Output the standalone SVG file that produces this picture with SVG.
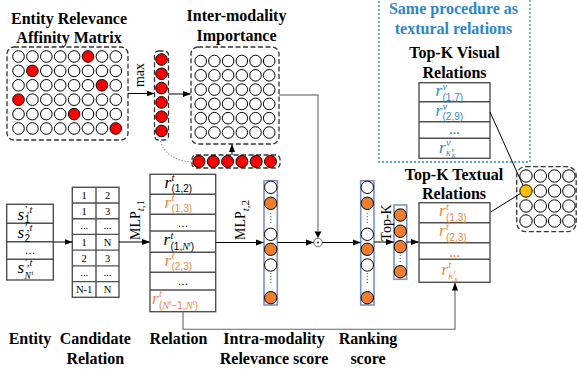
<svg xmlns="http://www.w3.org/2000/svg" width="577" height="376" viewBox="0 0 577 376">
<defs>
<style>
.t{font-family:"Liberation Serif","Times New Roman",serif;font-weight:bold;font-size:16px;fill:#000;text-anchor:middle}
.tb{font-family:"Liberation Serif","Times New Roman",serif;font-weight:bold;font-size:16px;fill:#2E86C8;text-anchor:middle}
.rot{font-family:"Liberation Serif","Times New Roman",serif;font-size:14px;fill:#000}
.mi{font-family:"Liberation Serif","Times New Roman",serif;font-style:italic;font-size:17px}
.sp{font-family:"Liberation Serif","Times New Roman",serif;font-style:italic;font-size:10.5px}
.sb{font-family:"Liberation Sans",Arial,sans-serif;font-size:10px;font-style:normal}
.it{font-family:"Liberation Serif","Times New Roman",serif;font-style:italic}
.dots{font-family:"Liberation Sans",Arial,sans-serif;font-size:11px;text-anchor:middle}
.cell{font-family:"Liberation Serif","Times New Roman",serif;font-size:10.5px;fill:#000;text-anchor:middle}
.blk{fill:#000}
.org{fill:#EE8540}
.blu{fill:#2E86C8}
.dash{fill:none;stroke:#333;stroke-width:1.3;stroke-dasharray:5,2.5}
.tbl{fill:#fff;stroke:#505050;stroke-width:1.4}
.ln{stroke:#505050;stroke-width:1.4;fill:none}
.col{fill:none;stroke:#7B93C6;stroke-width:1.6}
.c{fill:#fff;stroke:#000;stroke-width:1}
.red{fill:#FF0000;stroke:#000;stroke-width:1}
.or{fill:#ED7D31;stroke:#000;stroke-width:1}
.yl{fill:#FFC000;stroke:#000;stroke-width:1}
.ar{stroke:#000;stroke-width:1;fill:none}
.gar{stroke:#8a8a8a;stroke-width:1.4;fill:none}
.vd{stroke:#666;stroke-width:1.2;stroke-dasharray:1,2;fill:none}
</style>
<marker id="ah" markerWidth="8" markerHeight="7" refX="7.5" refY="3.5" orient="auto" markerUnits="userSpaceOnUse">
<path d="M0,0.5 L8,3.5 L0,6.5 z" fill="#000"/>
</marker>
</defs>
<rect width="577" height="376" fill="#fff"/>

<!-- titles -->
<g id="titles">
<text class="t" x="69" y="23.5">Entity Relevance</text>
<text class="t" x="69" y="42.5">Affinity Matrix</text>
<text class="t" x="236.5" y="21">Inter-modality</text>
<text class="t" x="236.5" y="40.5">Importance</text>
<text class="t" x="30" y="344">Entity</text>
<text class="t" x="95.3" y="344">Candidate</text>
<text class="t" x="95.3" y="364">Relation</text>
<text class="t" x="178.5" y="344">Relation</text>
<text class="t" x="274" y="344">Intra-modality</text>
<text class="t" x="274" y="364">Relevance score</text>
<text class="t" x="368" y="344">Ranking</text>
<text class="t" x="368" y="364">score</text>
<text class="t" x="454" y="179.5">Top-K Textual</text>
<text class="t" x="454" y="198.5">Relations</text>
</g>

<!-- affinity matrix -->
<g id="affinity">
<rect class="dash" x="7" y="47" width="121" height="93" rx="7"/>
<circle class="c" cx="18.5" cy="56.5" r="5.8"/><circle class="c" cx="32.4" cy="56.5" r="5.8"/><circle class="c" cx="46.3" cy="56.5" r="5.8"/><circle class="c" cx="60.2" cy="56.5" r="5.8"/><circle class="c" cx="74.1" cy="56.5" r="5.8"/><circle class="red" cx="88" cy="56.5" r="5.8"/><circle class="c" cx="101.9" cy="56.5" r="5.8"/><circle class="c" cx="115.8" cy="56.5" r="5.8"/>
<circle class="c" cx="18.5" cy="70.9" r="5.8"/><circle class="red" cx="32.4" cy="70.9" r="5.8"/><circle class="c" cx="46.3" cy="70.9" r="5.8"/><circle class="c" cx="60.2" cy="70.9" r="5.8"/><circle class="c" cx="74.1" cy="70.9" r="5.8"/><circle class="c" cx="88" cy="70.9" r="5.8"/><circle class="c" cx="101.9" cy="70.9" r="5.8"/><circle class="c" cx="115.8" cy="70.9" r="5.8"/>
<circle class="c" cx="18.5" cy="85.3" r="5.8"/><circle class="c" cx="32.4" cy="85.3" r="5.8"/><circle class="c" cx="46.3" cy="85.3" r="5.8"/><circle class="c" cx="60.2" cy="85.3" r="5.8"/><circle class="c" cx="74.1" cy="85.3" r="5.8"/><circle class="c" cx="88" cy="85.3" r="5.8"/><circle class="red" cx="101.9" cy="85.3" r="5.8"/><circle class="c" cx="115.8" cy="85.3" r="5.8"/>
<circle class="red" cx="18.5" cy="99.7" r="5.8"/><circle class="c" cx="32.4" cy="99.7" r="5.8"/><circle class="c" cx="46.3" cy="99.7" r="5.8"/><circle class="c" cx="60.2" cy="99.7" r="5.8"/><circle class="c" cx="74.1" cy="99.7" r="5.8"/><circle class="c" cx="88" cy="99.7" r="5.8"/><circle class="c" cx="101.9" cy="99.7" r="5.8"/><circle class="c" cx="115.8" cy="99.7" r="5.8"/>
<circle class="c" cx="18.5" cy="114.1" r="5.8"/><circle class="c" cx="32.4" cy="114.1" r="5.8"/><circle class="c" cx="46.3" cy="114.1" r="5.8"/><circle class="c" cx="60.2" cy="114.1" r="5.8"/><circle class="red" cx="74.1" cy="114.1" r="5.8"/><circle class="c" cx="88" cy="114.1" r="5.8"/><circle class="c" cx="101.9" cy="114.1" r="5.8"/><circle class="c" cx="115.8" cy="114.1" r="5.8"/>
<circle class="c" cx="18.5" cy="128.5" r="5.8"/><circle class="c" cx="32.4" cy="128.5" r="5.8"/><circle class="c" cx="46.3" cy="128.5" r="5.8"/><circle class="c" cx="60.2" cy="128.5" r="5.8"/><circle class="c" cx="74.1" cy="128.5" r="5.8"/><circle class="c" cx="88" cy="128.5" r="5.8"/><circle class="c" cx="101.9" cy="128.5" r="5.8"/><circle class="red" cx="115.8" cy="128.5" r="5.8"/>
</g>

<!-- max column -->
<g id="max-column">
<rect class="dash" x="154.5" y="51" width="14" height="89" rx="4"/>
<circle class="red" cx="161.5" cy="59.5" r="5.8"/><circle class="red" cx="161.5" cy="73.8" r="5.8"/><circle class="red" cx="161.5" cy="88.1" r="5.8"/><circle class="red" cx="161.5" cy="102.4" r="5.8"/><circle class="red" cx="161.5" cy="116.7" r="5.8"/><circle class="red" cx="161.5" cy="131" r="5.8"/>
</g>

<!-- inter-modality matrix -->
<g id="inter-modality">
<rect class="dash" x="191" y="47" width="88" height="97" rx="7"/>
<circle class="c" cx="200.7" cy="61" r="5.8"/><circle class="c" cx="214.4" cy="61" r="5.8"/><circle class="c" cx="228.1" cy="61" r="5.8"/><circle class="c" cx="241.8" cy="61" r="5.8"/><circle class="c" cx="255.5" cy="61" r="5.8"/><circle class="c" cx="269.2" cy="61" r="5.8"/>
<circle class="c" cx="200.7" cy="75.3" r="5.8"/><circle class="c" cx="214.4" cy="75.3" r="5.8"/><circle class="c" cx="228.1" cy="75.3" r="5.8"/><circle class="c" cx="241.8" cy="75.3" r="5.8"/><circle class="c" cx="255.5" cy="75.3" r="5.8"/><circle class="c" cx="269.2" cy="75.3" r="5.8"/>
<circle class="c" cx="200.7" cy="89.6" r="5.8"/><circle class="c" cx="214.4" cy="89.6" r="5.8"/><circle class="c" cx="228.1" cy="89.6" r="5.8"/><circle class="c" cx="241.8" cy="89.6" r="5.8"/><circle class="c" cx="255.5" cy="89.6" r="5.8"/><circle class="c" cx="269.2" cy="89.6" r="5.8"/>
<circle class="c" cx="200.7" cy="103.9" r="5.8"/><circle class="c" cx="214.4" cy="103.9" r="5.8"/><circle class="c" cx="228.1" cy="103.9" r="5.8"/><circle class="c" cx="241.8" cy="103.9" r="5.8"/><circle class="c" cx="255.5" cy="103.9" r="5.8"/><circle class="c" cx="269.2" cy="103.9" r="5.8"/>
<circle class="c" cx="200.7" cy="118.2" r="5.8"/><circle class="c" cx="214.4" cy="118.2" r="5.8"/><circle class="c" cx="228.1" cy="118.2" r="5.8"/><circle class="c" cx="241.8" cy="118.2" r="5.8"/><circle class="c" cx="255.5" cy="118.2" r="5.8"/><circle class="c" cx="269.2" cy="118.2" r="5.8"/>
<circle class="c" cx="200.7" cy="132.5" r="5.8"/><circle class="c" cx="214.4" cy="132.5" r="5.8"/><circle class="c" cx="228.1" cy="132.5" r="5.8"/><circle class="c" cx="241.8" cy="132.5" r="5.8"/><circle class="c" cx="255.5" cy="132.5" r="5.8"/><circle class="c" cx="269.2" cy="132.5" r="5.8"/>
</g>

<!-- red row -->
<g id="max-row">
<rect class="dash" x="192" y="155" width="88" height="13" rx="4"/>
<circle class="red" cx="199" cy="161.5" r="6"/><circle class="red" cx="213.3" cy="161.5" r="6"/><circle class="red" cx="227.6" cy="161.5" r="6"/><circle class="red" cx="241.9" cy="161.5" r="6"/><circle class="red" cx="256.2" cy="161.5" r="6"/><circle class="red" cx="270.5" cy="161.5" r="6"/>
</g>

<!-- visual box -->
<g id="visual-box">
<rect x="379" y="-5" width="151" height="167" fill="none" stroke="#2E86C8" stroke-width="1.3" stroke-dasharray="2,2"/>
<text class="tb" x="453.5" y="14">Same procedure as</text>
<text class="tb" x="453.5" y="34">textural relations</text>
<text class="t" x="454.5" y="58">Top-K Visual</text>
<text class="t" x="454.5" y="77.5">Relations</text>
</g>

<!-- visual relations table -->
<g id="visual-table">
<rect class="tbl" x="419" y="82.7" width="71" height="75.6"/>
<path class="ln" d="M419,101.7H490M419,121.7H490M419,138.3H490"/>
<text class="blu"><tspan class="mi" x="435.5" y="96.2">r</tspan><tspan class="sp" x="442.5" y="89.7">v</tspan><tspan class="sb" x="442.5" y="100.5">(1,7)</tspan></text>
<text class="blu"><tspan class="mi" x="435.5" y="115.7">r</tspan><tspan class="sp" x="442.5" y="109.5">v</tspan><tspan class="sb" x="442.5" y="119.8">(2,9)</tspan></text>
<text class="dots blu" x="454.5" y="134" font-weight="bold">…</text>
<text class="blu"><tspan class="mi" x="439" y="152.5">r</tspan><tspan class="sp" x="446" y="145.5">v</tspan><tspan class="it" x="446" y="156" font-size="9.5">κ</tspan><tspan class="it" x="451.5" y="151.5" font-size="6.5">v</tspan><tspan class="it" x="451.5" y="158" font-size="6.5">K</tspan></text>
</g>

<!-- textual relations table -->
<g id="textual-table">
<rect class="tbl" x="419" y="202.7" width="71" height="79.6"/>
<path class="ln" d="M419,222.7H490M419,242.7H490M419,259.3H490"/>
<text class="org"><tspan class="mi" x="439" y="216.2">r</tspan><tspan class="sp" x="446" y="209.7">t</tspan><tspan class="sb" x="446" y="220.5">(1,3)</tspan></text>
<text class="org"><tspan class="mi" x="439" y="236.2">r</tspan><tspan class="sp" x="446" y="229.7">t</tspan><tspan class="sb" x="446" y="240.5">(2,3)</tspan></text>
<text class="dots org" x="454.5" y="257" font-weight="bold">…</text>
<text class="org"><tspan class="mi" x="441.5" y="275">r</tspan><tspan class="sp" x="448.5" y="268">t</tspan><tspan class="it" x="448.5" y="278.5" font-size="9.5">κ</tspan><tspan class="it" x="454" y="274" font-size="6.5">t</tspan><tspan class="it" x="454" y="281.5" font-size="6.5">K</tspan></text>
</g>

<!-- right circle grid -->
<g id="fusion-grid">
<rect class="dash" x="516.7" y="166.7" width="59.5" height="65" rx="9"/>
<circle class="c" cx="526" cy="176" r="6.2"/><circle class="c" cx="540.3" cy="176" r="6.2"/><circle class="c" cx="554.6" cy="176" r="6.2"/><circle class="c" cx="568.9" cy="176" r="6.2"/>
<circle class="yl" cx="526" cy="191" r="6.2"/><circle class="c" cx="540.3" cy="191" r="6.2"/><circle class="c" cx="554.6" cy="191" r="6.2"/><circle class="c" cx="568.9" cy="191" r="6.2"/>
<circle class="c" cx="526" cy="206" r="6.2"/><circle class="c" cx="540.3" cy="206" r="6.2"/><circle class="c" cx="554.6" cy="206" r="6.2"/><circle class="c" cx="568.9" cy="206" r="6.2"/>
<circle class="c" cx="526" cy="221" r="6.2"/><circle class="c" cx="540.3" cy="221" r="6.2"/><circle class="c" cx="554.6" cy="221" r="6.2"/><circle class="c" cx="568.9" cy="221" r="6.2"/>
</g>

<!-- entity table -->
<g id="entity-table">
<rect class="tbl" x="6.7" y="204.3" width="46.6" height="75.7"/>
<path class="ln" d="M6.7,223.3H53.3M6.7,241.7H53.3M6.7,259.3H53.3"/>
<text class="blk"><tspan class="mi" x="17.5" y="219.5">s</tspan><tspan class="sp" x="24.5" y="212.5">′,t</tspan><tspan class="sb" x="24.5" y="223" font-size="9">1</tspan></text>
<text class="blk"><tspan class="mi" x="17.5" y="238">s</tspan><tspan class="sp" x="24.5" y="231">′,t</tspan><tspan class="sb" x="24.5" y="241.5" font-size="9">2</tspan></text>
<text class="dots blk" x="30" y="254">…</text>
<text class="blk"><tspan class="mi" x="17.5" y="273">s</tspan><tspan class="sp" x="24.5" y="266">′,t</tspan><tspan class="it" x="24.5" y="278.5" font-size="9.5">N</tspan><tspan class="it" x="31.5" y="275" font-size="6.5">t</tspan></text>
</g>

<!-- candidate table -->
<g id="candidate-table">
<rect class="tbl" x="72.3" y="187.3" width="46.7" height="110"/>
<path class="ln" d="M96,187.3V297.3M72.3,203H119M72.3,218.7H119M72.3,234.4H119M72.3,250.1H119M72.3,265.9H119M72.3,281.6H119"/>
<text class="cell" x="84.2" y="199">1</text><text class="cell" x="107.5" y="199">2</text>
<text class="cell" x="84.2" y="214.7">1</text><text class="cell" x="107.5" y="214.7">3</text>
<text class="cell" x="84.2" y="229">...</text><text class="cell" x="107.5" y="229">...</text>
<text class="cell" x="84.2" y="246.1">1</text><text class="cell" x="107.5" y="246.1">N</text>
<text class="cell" x="84.2" y="261.8">2</text><text class="cell" x="107.5" y="261.8">3</text>
<text class="cell" x="84.2" y="276">...</text><text class="cell" x="107.5" y="276">...</text>
<text class="cell" x="84.2" y="293.2">N-1</text><text class="cell" x="107.5" y="293.2">N</text>
</g>

<!-- relation table -->
<g id="relation-table">
<rect class="tbl" x="150" y="174.3" width="65.7" height="137.4"/>
<path class="ln" d="M150,194.3H215.7M150,214.3H215.7M150,231H215.7M150,252.3H215.7M150,272.3H215.7M150,290H215.7"/>
<text class="blk"><tspan class="mi" x="164.5" y="187.8">r</tspan><tspan class="sp" x="171.5" y="181.3">t</tspan><tspan class="sb" x="171.5" y="192.1">(1,2)</tspan></text>
<text class="org"><tspan class="mi" x="164.5" y="207.8">r</tspan><tspan class="sp" x="171.5" y="201.3">t</tspan><tspan class="sb" x="171.5" y="212.1">(1,3)</tspan></text>
<text class="dots blk" x="183" y="227">…</text>
<text class="blk"><tspan class="mi" x="163.5" y="245">r</tspan><tspan class="sp" x="170.5" y="238.5">t</tspan><tspan class="sb" x="170.5" y="249.5">(1,</tspan><tspan class="it" font-size="10">N</tspan><tspan class="it" font-size="7" dy="-4">t</tspan><tspan class="sb" dy="4">)</tspan></text>
<text class="org"><tspan class="mi" x="164.5" y="265.8">r</tspan><tspan class="sp" x="171.5" y="259.3">t</tspan><tspan class="sb" x="171.5" y="270">(2,3)</tspan></text>
<text class="dots blk" x="183" y="285">…</text>
<text class="org"><tspan class="mi" x="152" y="303.5">r</tspan><tspan class="sp" x="159" y="297">t</tspan><tspan class="sb" x="159" y="308.5" font-size="10.5">(</tspan><tspan class="it" font-size="10.5">N</tspan><tspan class="it" font-size="7.5" dy="-4">t</tspan><tspan class="sb" font-size="10.5" dy="4">−1,</tspan><tspan class="it" font-size="10.5">N</tspan><tspan class="it" font-size="7.5" dy="-4">t</tspan><tspan class="sb" font-size="10.5" dy="4">)</tspan></text>
</g>

<!-- intra column -->
<g id="intra-column">
<rect class="col" x="264" y="180.7" width="13.3" height="124.3"/>
<circle class="c" cx="270.7" cy="187.3" r="6.2"/><circle class="or" cx="270.7" cy="203.3" r="6.2"/>
<path class="vd" d="M270.7,213V224"/>
<circle class="c" cx="270.7" cy="234.3" r="6.2"/><circle class="or" cx="270.7" cy="249.3" r="6.2"/><circle class="c" cx="270.7" cy="265" r="6.2"/>
<path class="vd" d="M270.7,273V284"/>
<circle class="or" cx="270.7" cy="297.7" r="6.2"/>
</g>

<!-- ranking column -->
<g id="ranking-column">
<rect class="col" x="360.7" y="180.7" width="13.3" height="124.3"/>
<circle class="c" cx="367.3" cy="187.3" r="6.2"/><circle class="or" cx="367.3" cy="203.3" r="6.2"/>
<path class="vd" d="M367.3,213V224"/>
<circle class="c" cx="367.3" cy="234.3" r="6.2"/><circle class="or" cx="367.3" cy="249.3" r="6.2"/><circle class="c" cx="367.3" cy="265" r="6.2"/>
<path class="vd" d="M367.3,273V284"/>
<circle class="or" cx="367.3" cy="297.7" r="6.2"/>
</g>

<!-- top-k column -->
<g id="topk-column">
<rect class="col" x="394" y="205" width="12.7" height="74.3"/>
<circle class="or" cx="400.3" cy="215" r="6.2"/><circle class="or" cx="400.3" cy="231.2" r="6.2"/><circle class="or" cx="400.3" cy="246.7" r="6.2"/>
<path class="vd" d="M400.3,255V264"/>
<circle class="or" cx="400.3" cy="271.7" r="6.2"/>
</g>

<!-- hadamard -->
<g id="hadamard">
<circle cx="318" cy="242.5" r="4.3" fill="#fff" stroke="#666" stroke-width="1"/>
<circle cx="318" cy="242.5" r="1" fill="#333"/>
</g>

<!-- rotated labels -->
<g id="rotated-labels">
<text class="rot" transform="translate(143.5,75) rotate(-90)" text-anchor="middle">max</text>
<text class="rot" transform="translate(139.5,240) rotate(-90)" font-size="16">MLP<tspan font-size="11" dy="4" class="it">t</tspan><tspan font-size="11">,1</tspan></text>
<text class="rot" transform="translate(245,240) rotate(-90)" font-size="16">MLP<tspan font-size="11" dy="4" class="it">t</tspan><tspan font-size="11">,2</tspan></text>
<text class="rot" transform="translate(390.5,222.5) rotate(-90)" text-anchor="middle">Top-K</text>
</g>

<!-- connectors -->
<g id="connectors">
<path class="ar" d="M128,93.5H154" marker-end="url(#ah)"/>
<path class="ar" d="M168.5,94H190.5" marker-end="url(#ah)"/>
<path class="ar" d="M232,155V144.5" marker-end="url(#ah)"/>
<path d="M160.5,141 Q166,160 191.5,162" fill="none" stroke="#999" stroke-width="1.1" stroke-dasharray="1.5,1.5"/>
<path class="gar" d="M279,95H318V231"/>
<path d="M314.5,231.5L318,238L321.5,231.5z" fill="#000"/>
<path class="ar" d="M53.3,242H72" marker-end="url(#ah)"/>
<path class="ar" d="M119,242H149.5" marker-end="url(#ah)"/>
<path class="ar" d="M215.7,242.5H263.5" marker-end="url(#ah)"/>
<path class="ar" d="M277.3,242.5H313.5" marker-end="url(#ah)"/>
<path class="ar" d="M322.3,242.5H360.3" marker-end="url(#ah)"/>
<path class="ar" d="M374,242H393.5" marker-end="url(#ah)"/>
<path class="ar" d="M406.7,242H418.5" marker-end="url(#ah)"/>
<path d="M183,311.7V329.3H455V283" fill="none" stroke="#666" stroke-width="1.1" marker-end="url(#ah)"/>
<path class="ar" d="M490,112L523,185.5"/>
<path class="ar" d="M490.7,212L520.5,193.5"/>
</g>
</svg>
